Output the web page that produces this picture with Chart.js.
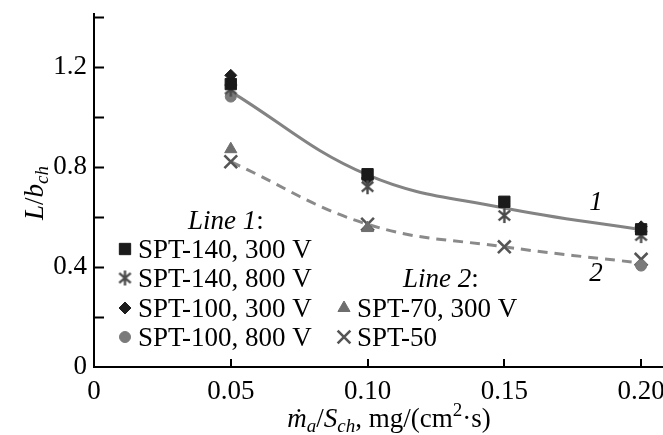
<!DOCTYPE html>
<html>
<head>
<meta charset="utf-8">
<script src="https://cdn.jsdelivr.net/npm/chart.js@4/dist/chart.umd.min.js"></script>
<style>
  html, body { margin: 0; padding: 0; background: #fff; }
  #wrap { width: 663px; height: 435px; position: relative; }
</style>
</head>
<body>
<div id="wrap"><canvas id="chart"></canvas></div>
<script>
// values
const xValues = [0.05, 0.10, 0.15, 0.20];
const spt140_300 = [1.13, 0.77, 0.66, 0.55];
const spt140_800 = [1.11, 0.72, 0.605, 0.525];
const spt100_300 = [1.165, 0.755, null, 0.56];
const spt100_800 = [1.08, 0.75, null, 0.405];
const spt70_300 = [0.87, 0.555, null, null];
const spt50 = [0.82, 0.57, 0.48, 0.43];
const line1 = [1.10, 0.767, 0.635, 0.548];
const line2 = [0.82, 0.57, 0.48, 0.415];

const SERIF = '"Liberation Serif", "Times New Roman", serif';
const FS = 27;
const SUB = 19;

function pts(ys) {
    return xValues.map((x, i) => ({ x, y: ys[i] })).filter(p => p.y !== null);
}

// 6-spoke asterisk used for SPT-140, 800 V
function makeAsterisk(size, color, lw) {
    const c = document.createElement('canvas');
    c.width = size;
    c.height = size;
    const g = c.getContext('2d');
    g.strokeStyle = color;
    g.lineWidth = lw;
    const m = size / 2, r = size / 2 - 1;
    g.beginPath();
    [90, 40, 140].forEach(a => {
        const rad = a * Math.PI / 180;
        g.moveTo(m - r * Math.cos(rad), m - r * Math.sin(rad));
        g.lineTo(m + r * Math.cos(rad), m + r * Math.sin(rad));
    });
    g.stroke();
    return c;
}
const asterisk = makeAsterisk(17, '#4a4a4a', 2.4);

const markers = [
    { label: 'SPT-140, 300 V', data: spt140_300, style: 'rect', radius: 8, color: '#1a1a1a' },
    { label: 'SPT-140, 800 V', data: spt140_800, style: asterisk, radius: 8, color: '#4a4a4a' },
    { label: 'SPT-100, 300 V', data: spt100_300, style: 'rectRot', radius: 6, color: '#1e1e1e' },
    { label: 'SPT-100, 800 V', data: spt100_800, style: 'circle', radius: 5.5, color: '#7a7a7a' },
    { label: 'SPT-70, 300 V', data: spt70_300, style: 'triangle', radius: 7, color: '#6e6e6e' },
    { label: 'SPT-50', data: spt50, style: 'crossRot', radius: 9, color: '#555555', border: 2.6 },
];

const datasets = markers.map(m => ({
    label: m.label,
    data: pts(m.data),
    pointStyle: m.style,
    pointRadius: m.radius,
    pointBackgroundColor: m.color,
    pointBorderColor: m.color,
    pointBorderWidth: m.border || 1,
    showLine: false,
    order: 1,
}));

datasets.push({
    label: 'Line 1',
    data: pts(line1),
    showLine: true,
    borderColor: '#838383',
    borderWidth: 3,
    pointRadius: 0,
    tension: 0.4,
    order: 5,
});
datasets.push({
    label: 'Line 2',
    data: pts(line2),
    showLine: true,
    borderColor: '#8a8a8a',
    borderWidth: 3,
    borderDash: [10, 7],
    pointRadius: 0,
    tension: 0.4,
    order: 5,
});

// draw a run of text pieces (italic, sub/superscript) starting at x
function drawRun(ctx, parts, x, y, align) {
    const fontOf = p => `${p.it ? 'italic ' : ''}${p.size || FS}px ${SERIF}`;
    let total = 0;
    parts.forEach(p => { ctx.font = fontOf(p); total += ctx.measureText(p.t).width; });
    let cx = align === 'center' ? x - total / 2 : x;
    ctx.textAlign = 'left';
    ctx.textBaseline = 'alphabetic';
    parts.forEach(p => {
        ctx.font = fontOf(p);
        ctx.fillText(p.t, cx, y + (p.dy || 0));
        cx += ctx.measureText(p.t).width;
    });
}

const extras = {
    id: 'extras',
    afterDraw(chart) {
        const ctx = chart.ctx;
        const xs = chart.scales.x, ys = chart.scales.y;
        ctx.save();
        ctx.strokeStyle = '#000';
        ctx.lineWidth = 2;

        // inward tick marks
        ctx.beginPath();
        ys.ticks.forEach(t => {
            if (t.value === 0) return;
            const py = Math.round(ys.getPixelForValue(t.value)) + 0.5;
            ctx.moveTo(xs.left, py);
            ctx.lineTo(xs.left + 10, py);
        });
        xs.ticks.forEach(t => {
            if (t.value === 0) return;
            const px = Math.round(xs.getPixelForValue(t.value));
            ctx.moveTo(px, ys.bottom);
            ctx.lineTo(px, ys.bottom - 8);
        });
        ctx.stroke();

        ctx.fillStyle = '#000';

        // curve numbers
        ctx.font = `italic ${FS}px ${SERIF}`;
        ctx.textAlign = 'center';
        ctx.textBaseline = 'middle';
        ctx.fillText('1', xs.getPixelForValue(0.1835), ys.getPixelForValue(0.655));
        ctx.fillText('2', xs.getPixelForValue(0.1835), ys.getPixelForValue(0.37));

        // legend
        const rowY = [249, 278, 308, 337];
        const cells = [
            { m: 0, x: 125, y: rowY[0] },
            { m: 1, x: 125, y: rowY[1] },
            { m: 2, x: 125, y: rowY[2] },
            { m: 3, x: 125, y: rowY[3] },
            { m: 4, x: 344, y: rowY[2] },
            { m: 5, x: 344, y: rowY[3] },
        ];
        drawRun(ctx, [{ t: 'Line 1', it: true }, { t: ':' }], 188, 229);
        drawRun(ctx, [{ t: 'Line 2', it: true }, { t: ':' }], 403, 287);
        cells.forEach(c => {
            const m = markers[c.m];
            ctx.fillStyle = m.color;
            ctx.strokeStyle = m.color;
            ctx.lineWidth = m.border || 1;
            Chart.helpers.drawPoint(ctx, {
                pointStyle: m.style, radius: m.radius, rotation: 0, borderWidth: m.border || 1,
            }, c.x, c.y);
            ctx.fillStyle = '#000';
            drawRun(ctx, [{ t: m.label }], c.x + 13, c.y + 9);
        });

        // axis titles
        ctx.fillStyle = '#000';
        drawRun(ctx, [
            { t: 'ṁ', it: true }, { t: 'a', it: true, size: SUB, dy: 5 },
            { t: '/' }, { t: 'S', it: true }, { t: 'ch', it: true, size: SUB, dy: 5 },
            { t: ', mg/(cm' }, { t: '2', size: SUB, dy: -11 }, { t: '·s)' },
        ], 389, 427, 'center');

        ctx.translate(43, 193);
        ctx.rotate(-Math.PI / 2);
        drawRun(ctx, [
            { t: 'L', it: true }, { t: '/' }, { t: 'b', it: true }, { t: 'ch', it: true, size: SUB, dy: 5 },
        ], 0, 0, 'center');
        ctx.restore();
    }
};

new Chart(document.getElementById('chart'), {
    type: 'scatter',
    data: { datasets },
    options: {
        responsive: true,
        maintainAspectRatio: false,
        animation: false,
        events: [],
        layout: { autoPadding: false, padding: { top: 14, right: 0, left: 0, bottom: 0 } },
        plugins: {
            legend: { display: false },
            tooltip: { enabled: false },
        },
        scales: {
            x: {
                type: 'linear',
                min: 0,
                max: 0.208,
                border: { display: true, color: '#000', width: 2 },
                grid: { display: false, drawTicks: false },
                ticks: {
                    stepSize: 0.05,
                    includeBounds: false,
                    padding: 9,
                    color: '#000',
                    maxRotation: 0,
                    font: { family: SERIF, size: FS },
                    callback: v => v === 0 ? '0' : v.toFixed(2),
                },
                afterFit: s => { s.height = 68; s.paddingLeft = 0; s.paddingRight = 0; },
            },
            y: {
                min: 0,
                max: 1.41,
                border: { display: true, color: '#000', width: 2 },
                grid: { display: false, drawTicks: false },
                ticks: {
                    stepSize: 0.2,
                    includeBounds: false,
                    padding: 7,
                    color: '#000',
                    font: { family: SERIF, size: FS },
                    callback: v => Math.round(v * 10) % 4 === 0 ? (v === 0 ? '0' : v.toFixed(1)) : '',
                },
                afterFit: s => { s.width = 94; s.paddingTop = 0; s.paddingBottom = 0; },
            },
        },
    },
    plugins: [extras],
});
</script>
</body>
</html>
